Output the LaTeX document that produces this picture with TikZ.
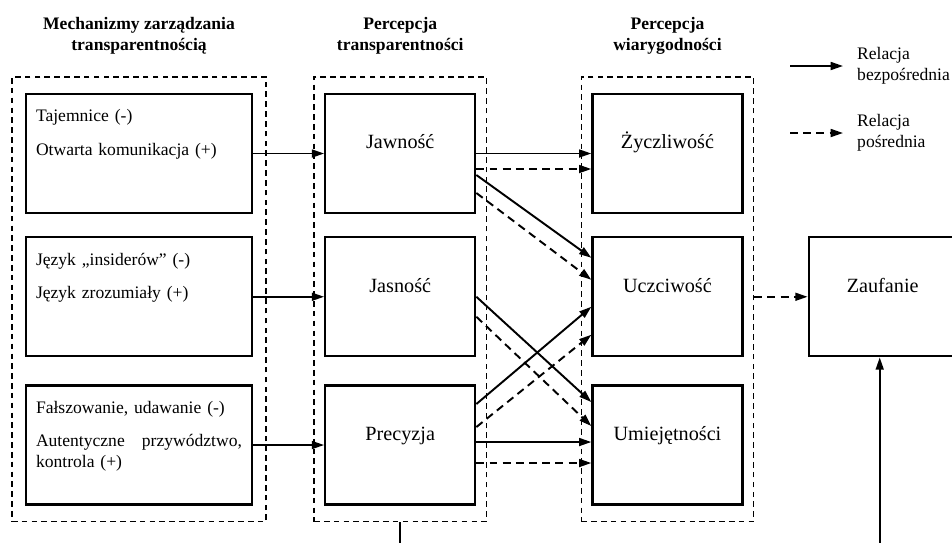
\documentclass[tikz,border=0pt]{standalone}
\usepackage{fontspec}
\setmainfont{Liberation Serif}
\usetikzlibrary{positioning, fit, arrows.meta}

\begin{document}
\begin{tikzpicture}[x=0.02cm, y=-0.02cm,
  lbox/.style = {draw, line width=1.3pt, minimum width=4.52cm, minimum height=2.38cm, text width=4.12cm, inner xsep=0.2cm, align=left, text height=8pt, text depth=43.9pt},
  mbox/.style = {draw, line width=1.3pt, minimum width=3cm, minimum height=2.38cm, font=\fontsize{11.5}{14}\selectfont, text height=8.5pt, text depth=13.9pt},
  grp/.style = {draw, line width=0.8pt, dash pattern=on 3.2pt off 2.4pt, inner xsep=0.2cm, inner ysep=0.32cm},
  ttl/.style = {align=center, font=\bfseries},
  leg/.style = {align=left, anchor=west},
  direct/.style = {line width=1.1pt, -{Triangle[length=7pt, width=4.5pt]}},
  indirect/.style = {direct, dash pattern=on 4.5pt off 3pt}]
\useasboundingbox (0,0) rectangle (952,542);

\node[lbox] (taj) at (139,153.5) {Tajemnice (-)\\[7.3pt] Otwarta komunikacja (+)};
\node[lbox, below=0.44cm of taj] (jez) {Język „insiderów” (-)\\[7pt] Język zrozumiały (+)};
\node[lbox, below=0.54cm of jez] (fal) {Fałszowanie, udawanie (-)\\[7pt] Autentyczne\hfill przywództwo,\\ kontrola (+)};

\node[mbox, right=1.42cm of taj] (jaw) {Jawność};
\node[mbox, right=1.42cm of jez] (jas) {Jasność};
\node[mbox, right=1.42cm of fal] (pre) {Precyzja};

\node[mbox, right=2.3cm of jaw] (zyc) {Życzliwość};
\node[mbox, right=2.3cm of jas] (ucz) {Uczciwość};
\node[mbox, right=2.3cm of pre] (umi) {Umiejętności};

\node[mbox, minimum width=2.96cm, right=1.28cm of ucz] (zau) {Zaufanie};

\node[grp, fit=(taj)(jez)(fal), inner xsep=0.26cm] (g1) {};
\node[grp, fit=(jaw)(jas)(pre)] (g2) {};
\node[grp, fit=(zyc)(ucz)(umi)] (g3) {};

\node[ttl, above=0.32cm of g1] (t1) {Mechanizmy zarządzania\\transparentnością};
\node[ttl, above=0.32cm of g2] (t2) {Percepcja\\transparentności};
\node[ttl, above=0.32cm of g3] (t3) {Percepcja\\wiarygodności};

\node[leg] (leg1) at (851,66) {Relacja\\bezpośrednia};
\node[leg] (leg2) at (851,133) {Relacja\\pośrednia};
\coordinate[left=1.22cm of leg1.west] (s1);
\coordinate[left=1.22cm of leg2.west] (s2);
\draw[direct, shorten >=0.16cm] (s1) -- (leg1);
\draw[indirect, shorten >=0.16cm] (s2) -- (leg2);

\draw[direct] (taj) -- (jaw);
\draw[direct] (jez) -- (jas);
\draw[direct] (fal) -- (pre);

\draw[direct] (jaw) -- (zyc);
\draw[indirect] ([yshift=-0.31cm]jaw.east) -- ([yshift=-0.31cm]zyc.west);
\draw[direct] ([yshift=-0.43cm]jaw.east) -- ([yshift=0.78cm]ucz.west);
\draw[indirect] ([yshift=-0.79cm]jaw.east) -- ([yshift=0.34cm]ucz.west);

\draw[direct] (jas.east) -- ([yshift=0.86cm]umi.west);
\draw[indirect] ([yshift=-0.4cm]jas.east) -- ([yshift=0.38cm]umi.west);

\draw[direct] ([yshift=0.82cm]pre.east) -- ([yshift=-0.2cm]ucz.west);
\draw[indirect] ([yshift=0.36cm]pre.east) -- ([yshift=-0.76cm]ucz.west);
\draw[direct] ([yshift=0.06cm]pre.east) -- ([yshift=0.06cm]umi.west);
\draw[indirect] ([yshift=-0.36cm]pre.east) -- ([yshift=-0.36cm]umi.west);

\draw[indirect] (g3.east |- zau.west) -- (zau.west);

\coordinate (b1) at (g2.south |- 0,546);
\coordinate (b2) at ([xshift=-0.06cm]zau.south |- 0,546);
\draw[line width=1.1pt] (g2.south) -- (b1);
\draw[direct] (b2) -- ([xshift=-0.06cm]zau.south);
\end{tikzpicture}
\end{document}
